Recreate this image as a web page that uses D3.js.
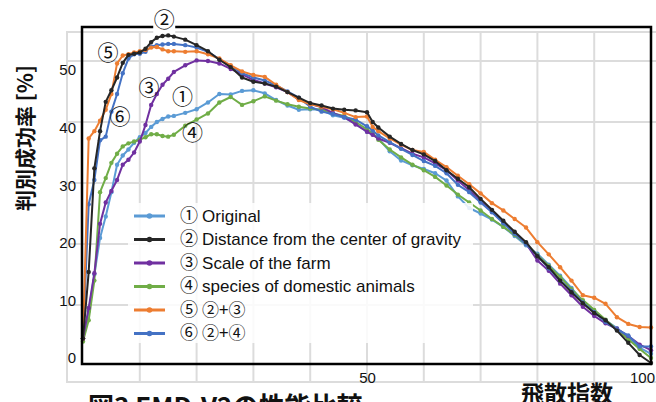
<!DOCTYPE html>
<html>
<head>
<meta charset="utf-8">
<script src="https://cdn.jsdelivr.net/npm/d3@7"></script>
<style>
  body { margin: 0; background: #fff; }
  svg { display: block; }
  .lbl { font-family: "Liberation Sans Narrow", "Liberation Sans", "Noto Sans CJK JP", sans-serif; fill: #111; }
  .cjk { font-family: "Noto Sans CJK JP", sans-serif; fill: #111; }
</style>
</head>
<body>
<svg width="656" height="402"></svg>
<script>
const xs = [0, 1, 2, 3, 4, 5, 6, 7, 8, 9, 10, 11, 12, 13, 14, 15, 16,
  18, 20, 22, 24, 26, 28, 30, 32, 34, 36, 38, 40, 42, 44, 46, 48, 50, 51,
  52, 54, 56, 58, 60, 62, 64, 66, 68, 70, 72, 74, 76, 78, 80, 82, 84, 86, 88, 90, 92, 94, 96, 98, 100];

const original = [4.5, 9, 15, 21, 24.5, 28.5, 33, 34.5, 35.5, 36.6, 37.5, 38.2, 39.2, 40, 40.5, 40.9, 41,
  41.5, 42.1, 43.2, 44.6, 44.5, 45.1, 45.2, 44.7, 43.6, 42.7, 42, 42.1, 42, 41.1, 40.7, 39.7, 38.4, 38,
  37.3, 35.2, 33.7, 32.9, 32.3, 31.6, 30.4, 27.8, 25.9, 25, 24, 22.8, 21.3, 19.8, 18.4, 16.6, 14.8, 12.8, 10.5, 9, 7.5, 6.2, 4.8, 3, 2];
const gravity = [4.5, 15.4, 32.4, 38.5, 43.3, 45.2, 47.3, 49.7, 51, 51.2, 51.4, 52, 53.1, 53.8, 54.1, 54.2, 54,
  53.5, 52.6, 51.6, 50.2, 49, 47.3, 46.6, 46.3, 45.8, 44.9, 44, 43.1, 42.7, 42.2, 42, 41.9, 41.6, 40,
  39.1, 37.6, 36.4, 35.4, 34.7, 33.6, 32.1, 30.7, 29.3, 27.4, 25.6, 23.8, 22, 20.3, 18, 16.2, 14, 12.1, 10.3, 8.7, 7.5, 5.8, 3.8, 1.8, 0.5];
const farm = [4.5, 9.5, 15.2, 23.3, 26.8, 28.7, 30.5, 33, 33.8, 35, 36.8, 39.5, 42.8, 44.6, 46.1, 47.1, 48.2,
  49.3, 50.1, 50, 49.6, 48.7, 47.8, 46.9, 46.3, 45.7, 44.9, 43.7, 43, 42.4, 41.5, 40.8, 39.6, 38.4, 37.9,
  37.3, 36.6, 35.7, 34.8, 34.2, 33.2, 32.1, 30.4, 28.8, 27, 25.3, 23.6, 21.8, 20.1, 17.3, 15.6, 13.5, 11.6, 9.7, 8.2, 7, 6.1, 4.9, 3.5, 2.6];
const species = [4, 7.5, 14, 28.5, 30.8, 33.3, 34.8, 36, 36.5, 36.8, 37.1, 37.5, 38, 38, 37.7, 37.6, 37.9,
  39.4, 40.4, 41.4, 43.2, 44.1, 42.8, 43.4, 44.2, 43.5, 42.9, 42.5, 42.2, 42, 41.4, 41, 40, 38.8, 38.2,
  37.1, 35.5, 34.2, 33, 32.1, 31, 29.6, 28.1, 26.8, 25.5, 24.1, 22.8, 21.5, 20, 18.2, 16.4, 14.6, 12.6, 10.8, 9.2, 7.6, 6, 4.4, 2.8, 1.3];
const gravFarm = [4.5, 37.3, 38.5, 40.2, 42, 44.6, 49.6, 50.9, 51.1, 51.4, 51.6, 51.8, 52.2, 52.3, 51.9, 51.6, 51.6,
  51.5, 51.6, 51.1, 50.4, 49.3, 48.3, 47.7, 47.4, 46.1, 44.9, 43.6, 42.9, 42.5, 42.1, 41.5, 40.8, 40.9, 39.2,
  38.5, 37.3, 36.3, 35.4, 35.1, 33.8, 32.6, 31.2, 29.8, 28.3, 26.7, 25.5, 24.1, 22.7, 20.3, 18.3, 16.2, 14, 11.6, 11.2, 10.2, 8, 6.9, 6.4, 6.3];
const gravSpecies = [4.5, 26.5, 30.5, 37, 37.6, 41.7, 44.6, 48, 50.4, 51.1, 51.2, 51.5, 52.4, 52.6, 52.7, 52.8, 52.8,
  52.6, 52.2, 51.5, 50.3, 49.2, 48, 47.3, 46.8, 46, 45, 44, 42.5, 41.7, 41.3, 40.8, 40.4, 39.3, 38.6,
  37.8, 36.7, 35.6, 34.6, 33.6, 32.8, 31.6, 29.7, 28.5, 26.8, 25.2, 23.4, 21.7, 20, 18.1, 16, 14, 12.3, 10.4, 8.8, 7.2, 6, 5, 3.2, 3.2];

const seriesNums = ["①", "②", "③", "④", "⑤", "⑥"];
const seriesNames = ["Original", "Distance from the center of gravity", "Scale of the farm",
  "species of domestic animals", "②+③", "②+④"];
const seriesValues = [original, gravity, farm, species, gravFarm, gravSpecies];
const seriesColors = ["#5b9bd5", "#262626", "#7030a0", "#70ad47", "#ed7d31", "#4472c4"];
const drawOrder = [0, 3, 2, 5, 4, 1];
const marks = ["②", "⑤", "③", "①", "⑥", "④"];
const markX = [14.3, 4.4, 11.6, 17.5, 6.5, 19.3];
const markY = [56.8, 51.3, 45.7, 44.2, 40.8, 38.3];

const yTicks = [0, 10, 20, 30, 40, 50];
const xTicks = [50, 100];

const svg = d3.select("svg");
const x = d3.scaleLinear().domain([0, 100]).range([83, 651]);
const y = d3.scaleLinear().domain([0, 50]).range([366, 61]);
const yLab = d3.scaleLinear().domain([0, 50]).range([358, 70]);

// light grey grid, extends a bit beyond the black frame like the original
const grid = svg.append("g").attr("stroke", "#dcdcdc").attr("stroke-width", 2);
grid.selectAll("line.h")
  .data(d3.range(10, 51, 10))
  .enter().append("line")
  .attr("x1", 67).attr("x2", 656)
  .attr("y1", d => y(d)).attr("y2", d => y(d));
grid.selectAll("line.v")
  .data(d3.range(10, 91, 10))
  .enter().append("line")
  .attr("x1", d => x(d)).attr("x2", d => x(d))
  .attr("y1", 32).attr("y2", 382);
grid.append("path")
  .attr("fill", "none")
  .attr("d", "M656,32H67V382H656");

const line = d3.line()
  .x((d, i) => x(xs[i]))
  .y(d => y(d));

const series = svg.selectAll("g.series")
  .data(drawOrder)
  .enter().append("g")
  .attr("class", "series");

series.append("path")
  .attr("fill", "none")
  .attr("stroke", k => seriesColors[k])
  .attr("stroke-width", 2)
  .attr("stroke-linejoin", "round")
  .attr("d", k => line(seriesValues[k]));

series.selectAll("circle")
  .data(k => seriesValues[k].map(v => ({ v, k })))
  .enter().append("circle")
  .attr("cx", (d, i) => x(xs[i]))
  .attr("cy", d => y(d.v))
  .attr("r", 2.2)
  .attr("fill", d => seriesColors[d.k]);

// black frame
svg.append("rect")
  .attr("x", x(0) - 1).attr("y", 27)
  .attr("width", x(100) - x(0) + 1).attr("height", 364 - 27)
  .attr("fill", "none")
  .attr("stroke", "#000")
  .attr("stroke-width", 2.5);

// legend
const legend = svg.append("g");
legend.append("rect")
  .attr("x", 128).attr("y", 203).attr("width", 345).attr("height", 140)
  .attr("fill", "#fff").attr("opacity", 0.85);
const item = legend.selectAll("g")
  .data(seriesNames)
  .enter().append("g")
  .attr("transform", (d, i) => `translate(0,${216 + i * 23.5})`);
item.append("line")
  .attr("x1", 134).attr("x2", 165)
  .attr("stroke", (d, i) => seriesColors[i])
  .attr("stroke-width", 3);
item.append("circle")
  .attr("cx", 149.5).attr("r", 2.8)
  .attr("fill", (d, i) => seriesColors[i]);
const itemText = item.append("text")
  .attr("class", "lbl")
  .attr("x", 180).attr("dy", "0.35em")
  .attr("font-size", 17);
itemText.append("tspan")
  .attr("class", "cjk")
  .attr("font-size", 18)
  .text((d, i) => seriesNums[i] + " ");
itemText.append("tspan")
  .attr("class", d => /[①-⑥]/.test(d) ? "cjk" : null)
  .text(d => d);

// circled markers on the curves
svg.selectAll("rect.mk")
  .data([0])
  .enter().append("rect")
  .attr("x", x(markX[0]) - 11).attr("y", 9).attr("width", 22).attr("height", 24)
  .attr("fill", "#fff");
svg.selectAll("text.mk")
  .data(marks)
  .enter().append("text")
  .attr("class", "cjk mk")
  .attr("x", (d, i) => x(markX[i]))
  .attr("y", (d, i) => y(markY[i]))
  .attr("text-anchor", "middle")
  .attr("dy", "0.35em")
  .attr("font-size", 21)
  .text(d => d);

// axes labels
const yAxis = svg.append("g")
  .attr("transform", "translate(76,0)")
  .call(d3.axisLeft(yLab).tickValues(yTicks).tickSize(0).tickPadding(0));
yAxis.select(".domain").remove();
yAxis.selectAll("text").attr("font-size", 15).attr("font-family", "'Liberation Sans Narrow', 'Liberation Sans', sans-serif").attr("fill", "#111");

const xAxis = svg.append("g")
  .attr("transform", "translate(0,372)")
  .call(d3.axisBottom(x).tickValues(xTicks).tickSize(0).tickPadding(0));
xAxis.select(".domain").remove();
xAxis.selectAll("text")
  .attr("font-size", 15)
  .attr("font-family", "'Liberation Sans Narrow', 'Liberation Sans', sans-serif")
  .attr("fill", "#111")
  .attr("dx", d => d === 100 ? -9 : 0);

svg.append("text")
  .attr("class", "cjk")
  .attr("transform", "translate(26,138) rotate(-90)")
  .attr("text-anchor", "middle")
  .attr("dy", "0.35em")
  .attr("font-size", 21)
  .attr("font-weight", "bold")
  .text("判別成功率 [%]");

svg.append("text")
  .attr("class", "cjk")
  .attr("x", 567).attr("y", 402)
  .attr("text-anchor", "middle")
  .attr("font-size", 23)
  .attr("font-weight", "bold")
  .text("飛散指数");

svg.append("text")
  .attr("class", "cjk")
  .attr("x", 88).attr("y", 416)
  .attr("font-size", 26)
  .attr("font-weight", "bold")
  .text("図3 EMD-V2の性能比較");
</script>
</body>
</html>
